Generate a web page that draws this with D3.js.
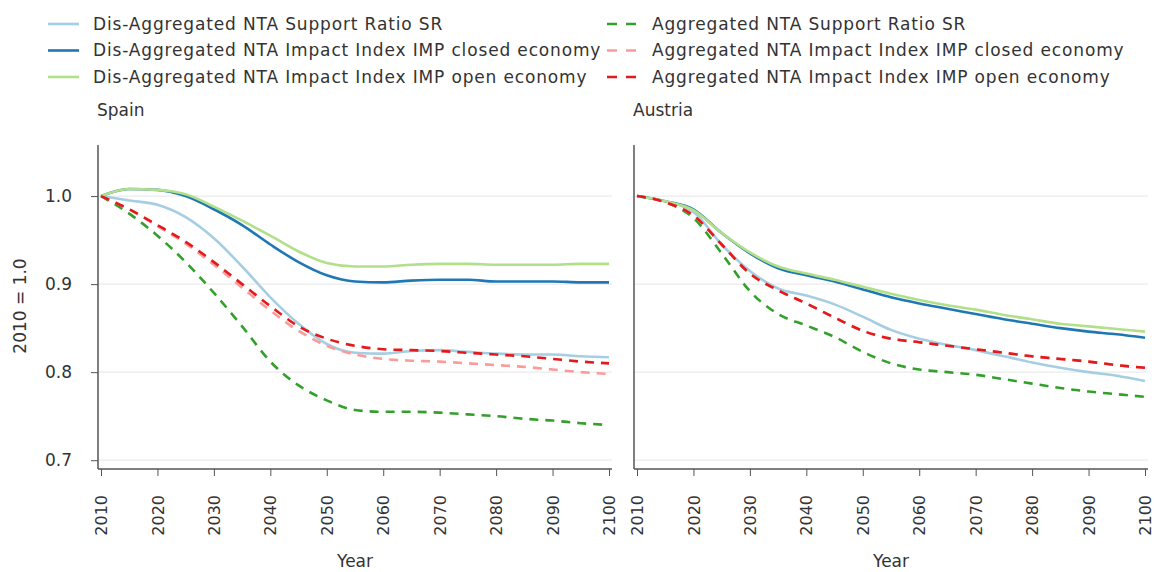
<!DOCTYPE html>
<html>
<head>
<meta charset="utf-8">
<script src="https://cdn.jsdelivr.net/npm/d3@7"></script>
<style>
  body { margin: 0; background: #fff; }
  svg text { font-family: "DejaVu Sans", sans-serif; fill: #333; }
</style>
</head>
<body>
<svg id="chart" width="1154" height="572"></svg>
<script>
// Data (5-year steps)
const years = d3.range(2010, 2101, 5);

const spainDisSR     = [1.000, 0.995, 0.990, 0.976, 0.952, 0.920, 0.885, 0.855, 0.832, 0.822, 0.821, 0.824, 0.825, 0.823, 0.821, 0.820, 0.820, 0.818, 0.817];
const spainDisClosed = [1.000, 1.008, 1.007, 1.000, 0.985, 0.967, 0.945, 0.925, 0.910, 0.903, 0.902, 0.904, 0.905, 0.905, 0.903, 0.903, 0.903, 0.902, 0.902];
const spainDisOpen   = [1.000, 1.008, 1.007, 1.002, 0.988, 0.972, 0.955, 0.937, 0.924, 0.920, 0.920, 0.922, 0.923, 0.923, 0.922, 0.922, 0.922, 0.923, 0.923];
const spainAggSR     = [1.000, 0.980, 0.955, 0.925, 0.890, 0.852, 0.812, 0.785, 0.768, 0.757, 0.755, 0.755, 0.754, 0.752, 0.750, 0.747, 0.745, 0.742, 0.740];
const spainAggClosed = [1.000, 0.985, 0.966, 0.946, 0.922, 0.896, 0.870, 0.847, 0.830, 0.820, 0.815, 0.813, 0.812, 0.810, 0.808, 0.806, 0.803, 0.800, 0.798];
const spainAggOpen   = [1.000, 0.985, 0.967, 0.948, 0.925, 0.900, 0.875, 0.852, 0.838, 0.830, 0.826, 0.825, 0.824, 0.822, 0.820, 0.818, 0.815, 0.812, 0.810];

const austriaDisSR     = [1.000, 0.994, 0.982, 0.945, 0.915, 0.895, 0.887, 0.877, 0.863, 0.848, 0.838, 0.831, 0.825, 0.818, 0.811, 0.805, 0.800, 0.796, 0.790];
const austriaDisClosed = [1.000, 0.994, 0.985, 0.958, 0.935, 0.918, 0.910, 0.903, 0.894, 0.885, 0.878, 0.872, 0.866, 0.860, 0.855, 0.850, 0.846, 0.843, 0.839];
const austriaDisOpen   = [1.000, 0.994, 0.984, 0.958, 0.936, 0.920, 0.912, 0.905, 0.897, 0.889, 0.882, 0.876, 0.871, 0.865, 0.860, 0.855, 0.852, 0.849, 0.846];
const austriaAggSR     = [1.000, 0.993, 0.975, 0.935, 0.892, 0.866, 0.853, 0.840, 0.823, 0.810, 0.803, 0.800, 0.797, 0.792, 0.787, 0.782, 0.778, 0.775, 0.772];
const austriaAggClosed = [1.000, 0.993, 0.978, 0.945, 0.912, 0.893, 0.878, 0.862, 0.847, 0.838, 0.834, 0.830, 0.826, 0.822, 0.818, 0.815, 0.812, 0.808, 0.805];
const austriaAggOpen   = [1.000, 0.993, 0.978, 0.945, 0.912, 0.893, 0.878, 0.862, 0.847, 0.838, 0.834, 0.830, 0.826, 0.822, 0.818, 0.815, 0.812, 0.808, 0.805];

const seriesNames = [
  'Dis-Aggregated NTA Support Ratio SR',
  'Dis-Aggregated NTA Impact Index IMP closed economy',
  'Dis-Aggregated NTA Impact Index IMP open economy',
  'Aggregated NTA Support Ratio SR',
  'Aggregated NTA Impact Index IMP closed economy',
  'Aggregated NTA Impact Index IMP open economy'
];
const seriesColors = ['#a6cee3', '#1f78b4', '#b2df8a', '#33a02c', '#fb9a99', '#e31a1c'];
const seriesDashed = [false, false, false, true, true, true];

const yTicks = [0.7, 0.8, 0.9, 1.0];
const xTicks = d3.range(2010, 2101, 10);

const panels = [
  { name: 'Spain',   left: 98,  right: 612, values: [spainDisSR, spainDisClosed, spainDisOpen, spainAggSR, spainAggClosed, spainAggOpen], showY: true },
  { name: 'Austria', left: 634, right: 1148, values: [austriaDisSR, austriaDisClosed, austriaDisOpen, austriaAggSR, austriaAggClosed, austriaAggOpen], showY: false }
];

const svg = d3.select('#chart');
const plotTop = 145, plotBottom = 469;

const y = d3.scaleLinear().domain([0.69, 1.058]).range([plotBottom, plotTop]);

// draw order: solid first, then dashed on top (pink under red)
const drawOrder = [3, 0, 1, 2, 4, 5];

panels.forEach(p => {
  const g = svg.append('g');
  const x = d3.scaleLinear().domain([2010, 2100]).range([p.left + 3, p.right - 3]);

  // gridlines
  g.append('g').selectAll('line').data(yTicks).join('line')
    .attr('x1', p.left).attr('x2', p.right)
    .attr('y1', d => y(d)).attr('y2', d => y(d))
    .attr('stroke', '#ebebeb').attr('stroke-width', 1.2);

  // y axis
  const yAxis = g.append('g').attr('transform', `translate(${p.left},0)`)
    .call(d3.axisLeft(y).tickValues(p.showY ? yTicks : []).tickFormat(d3.format('.1f')).tickSize(7).tickPadding(19));
  yAxis.select('.domain').attr('d', `M0,${plotTop}V${plotBottom}`).attr('stroke', '#555').attr('stroke-width', 1.5);
  yAxis.selectAll('.tick line').attr('stroke', '#555');
  yAxis.selectAll('.tick text').style('font-size', '17px').attr('fill', '#333');

  // x axis
  const xAxis = g.append('g').attr('transform', `translate(0,${plotBottom})`)
    .call(d3.axisBottom(x).tickValues(xTicks).tickFormat(d3.format('d')).tickSize(7));
  xAxis.select('.domain').attr('d', `M${p.left},0H${p.right}`).attr('stroke', '#555').attr('stroke-width', 1.5);
  xAxis.selectAll('.tick line').attr('stroke', '#555');
  xAxis.selectAll('.tick text')
    .style('font-size', '16px').attr('fill', '#333')
    .attr('transform', 'rotate(-90)')
    .attr('x', -26).attr('y', 0).attr('dy', '0.35em')
    .style('text-anchor', 'end');

  // title
  g.append('text').attr('x', p.left - 1).attr('y', 116).style('font-size', '17px').text(p.name);

  // x label
  g.append('text').attr('x', (p.left + p.right) / 2).attr('y', 561).attr('dy', '0.35em')
    .attr('text-anchor', 'middle').style('font-size', '17px').text('Year');

  const line = d3.line().x((d, i) => x(years[i])).y(d => y(d)).curve(d3.curveMonotoneX);
  drawOrder.forEach(k => {
    g.append('path').datum(p.values[k])
      .attr('d', line)
      .attr('fill', 'none')
      .attr('stroke', seriesColors[k])
      .attr('stroke-width', 2.6)
      .attr('stroke-dasharray', seriesDashed[k] ? '9,7' : null);
  });
});

// y axis label
svg.append('text')
  .attr('transform', `translate(20,306) rotate(-90)`)
  .attr('text-anchor', 'middle').attr('dy', '0.35em').style('font-size', '17px').text('2010 = 1.0');

// legend
const legend = svg.append('g');
seriesNames.forEach((name, k) => {
  const col = k < 3 ? 0 : 1;
  const row = k % 3;
  const lx = col === 0 ? 48 : 607;
  const ly = 24 + row * 26.5;
  legend.append('line')
    .attr('x1', lx).attr('x2', lx + 31).attr('y1', ly).attr('y2', ly)
    .attr('stroke', seriesColors[k]).attr('stroke-width', 2.6)
    .attr('stroke-dasharray', seriesDashed[k] ? '10,9' : null);
  legend.append('text')
    .attr('x', lx + 45).attr('y', ly).attr('dy', '0.35em')
    .style('font-size', '17px').style('letter-spacing', '0.85px').text(name);
});
</script>
</body>
</html>
